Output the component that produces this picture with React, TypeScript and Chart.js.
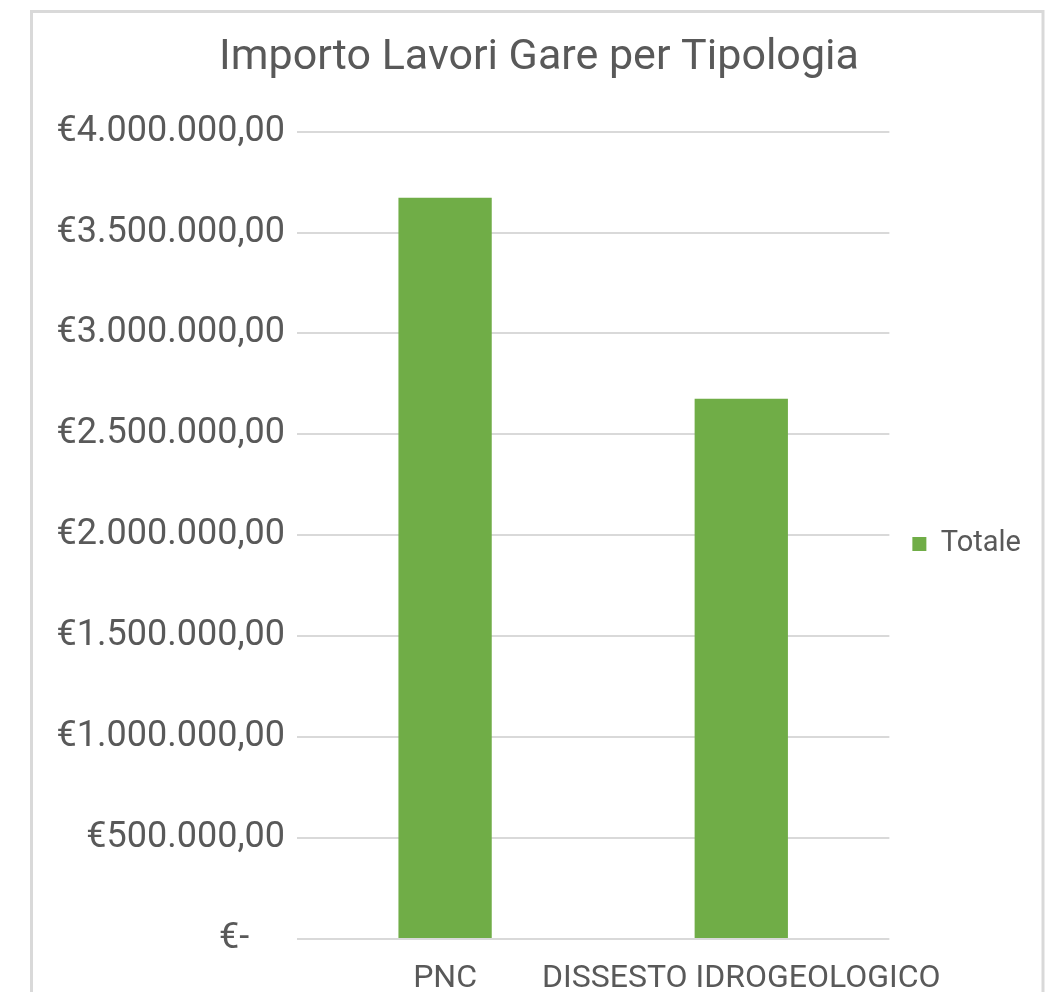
import React, { useEffect, useRef } from 'react';
import { Chart, registerables } from 'chart.js';

Chart.register(...registerables);

const chartTitle = 'Importo Lavori Gare per Tipologia';
const categories = ['PNC', 'DISSESTO IDROGEOLOGICO'];
const seriesName = 'Totale';
const totale = [3672000, 2676000];
const yMax = 4000000;
const yStep = 500000;

const TEXT = '#595959';
const GRID = '#d9d9d9';
const GREEN = '#70ad47';
const FONT = 'Roboto';

function formatEuro(v: number): string {
  if (v === 0) return '€-    ';
  const intPart = Math.floor(v).toString().replace(/\B(?=(\d{3})+(?!\d))/g, '.');
  return '€' + intPart + ',00';
}

const framePlugin = {
  id: 'frame',
  beforeDraw(chart: any) {
    const ctx = chart.ctx;
    ctx.save();
    ctx.fillStyle = '#ffffff';
    ctx.fillRect(0, 0, chart.width, chart.height);
    ctx.strokeStyle = GRID;
    ctx.lineWidth = 3;
    ctx.strokeRect(31.5, 11.5, 1011.5, 1010);
    ctx.restore();
  },
};

export default function App() {
  const ref = useRef<HTMLCanvasElement>(null);

  useEffect(() => {
    if (!ref.current) return;
    const chart = new Chart(ref.current, {
      type: 'bar',
      data: {
        labels: categories,
        datasets: [
          {
            label: seriesName,
            data: totale,
            backgroundColor: GREEN,
            borderWidth: 0,
            categoryPercentage: 1,
            barPercentage: 0.315,
          },
        ],
      },
      options: {
        responsive: false,
        animation: false,
        devicePixelRatio: 1,
        layout: { padding: { left: 47, right: 24, top: 0, bottom: 0 } },
        scales: {
          x: {
            grid: { display: false, drawTicks: false },
            border: { display: false },
            ticks: { color: TEXT, font: { family: FONT, size: 32 }, padding: 21, maxRotation: 0, autoSkip: false },
            afterFit: (s: any) => { s.height = 53; },
          },
          y: {
            min: 0,
            max: yMax,
            grid: { color: GRID, lineWidth: 2, drawTicks: false },
            border: { display: false },
            ticks: {
              stepSize: yStep,
              color: TEXT,
              font: { family: FONT, size: 36 },
              padding: 12,
              callback: (v: any) => formatEuro(Number(v)),
            },
            afterFit: (s: any) => { s.width = 250; },
          },
        },
        plugins: {
          title: {
            display: true,
            text: chartTitle,
            color: TEXT,
            font: { family: FONT, size: 43, weight: 'normal' },
            padding: { top: 32, bottom: 48 },
          },
          legend: {
            display: true,
            position: 'right',
            fullSize: false,
            title: { display: true, text: '', padding: 0, font: { size: 14.5 } },
            labels: {
              color: TEXT,
              font: { family: FONT, size: 29 },
              boxWidth: 14,
              boxHeight: 14,
              padding: 23,
            },
          },
          tooltip: { enabled: false },
        },
      },
      plugins: [framePlugin],
    } as any);
    return () => chart.destroy();
  }, []);

  return (
    <div style={{ position: 'fixed', left: 0, top: 0, width: 1055, height: 992 }}>
      <canvas ref={ref} width={1055} height={992} style={{ display: 'block' }} />
    </div>
  );
}
